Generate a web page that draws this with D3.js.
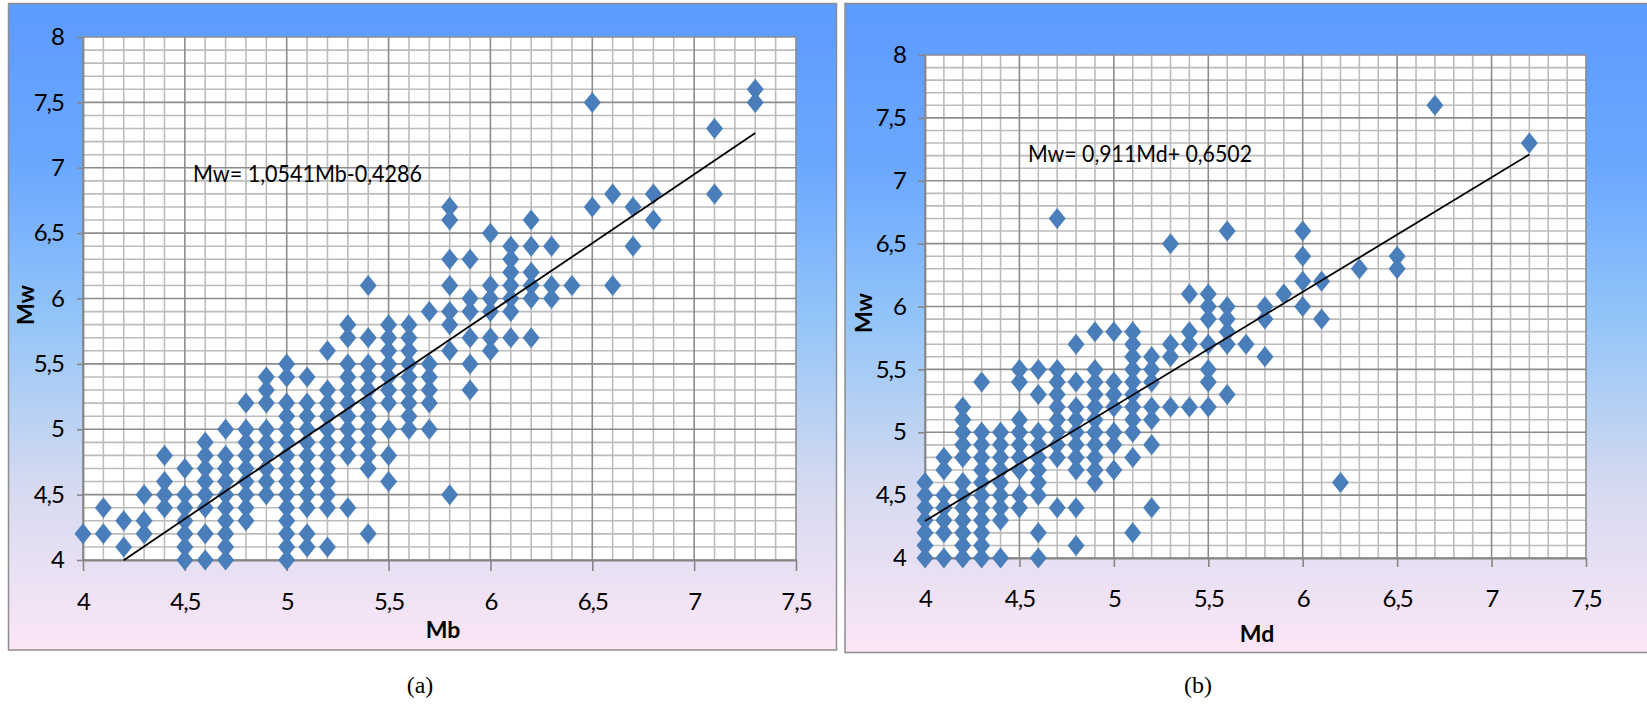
<!DOCTYPE html>
<html>
<head>
<meta charset="utf-8">
<script src="https://cdn.jsdelivr.net/npm/d3@7"></script>
<style>
  body { margin: 0; background: #fff; }
  text { font-family: Lato, "Open Sans", sans-serif; }
</style>
</head>
<body>
<div id="chart"></div>
<script>
var svgWidth = 1647;
var svgHeight = 704;

// (a) Mb columns and the Mw values found on each column
var mbValues = [4.0, 4.1, 4.2, 4.3, 4.4, 4.5, 4.6, 4.7, 4.8, 4.9, 5.0, 5.1, 5.2, 5.3, 5.4, 5.5,
  5.6, 5.7, 5.8, 5.9, 6.0, 6.1, 6.2, 6.3, 6.4, 6.5, 6.6, 6.7, 6.8, 7.1, 7.3];
var mwByMb = [
  [4.2],
  [4.4, 4.2],
  [4.3, 4.1],
  [4.5, 4.3, 4.2],
  [4.8, 4.6, 4.5, 4.4],
  [4.7, 4.5, 4.4, 4.3, 4.2, 4.1, 4.0],
  [4.9, 4.8, 4.7, 4.6, 4.5, 4.4, 4.2, 4.0],
  [5.0, 4.8, 4.7, 4.6, 4.5, 4.4, 4.3, 4.2, 4.1, 4.0],
  [5.2, 5.0, 4.9, 4.8, 4.7, 4.6, 4.5, 4.4, 4.3],
  [5.4, 5.3, 5.2, 5.0, 4.9, 4.8, 4.7, 4.6, 4.5],
  [5.5, 5.4, 5.2, 5.1, 5.0, 4.9, 4.8, 4.7, 4.6, 4.5, 4.4, 4.3, 4.2, 4.1, 4.0],
  [5.4, 5.2, 5.1, 5.0, 4.9, 4.8, 4.7, 4.6, 4.5, 4.4, 4.2, 4.1],
  [5.6, 5.3, 5.2, 5.1, 5.0, 4.9, 4.8, 4.7, 4.6, 4.5, 4.4, 4.1],
  [5.8, 5.7, 5.5, 5.4, 5.3, 5.2, 5.1, 5.0, 4.9, 4.8, 4.4],
  [6.1, 5.7, 5.5, 5.4, 5.3, 5.2, 5.1, 5.0, 4.9, 4.8, 4.7, 4.2],
  [5.8, 5.7, 5.6, 5.5, 5.4, 5.3, 5.2, 5.0, 4.8, 4.6],
  [5.8, 5.7, 5.6, 5.5, 5.4, 5.3, 5.2, 5.1, 5.0],
  [5.9, 5.5, 5.4, 5.3, 5.2, 5.0],
  [6.7, 6.6, 6.3, 6.1, 5.9, 5.8, 5.6, 4.5],
  [6.3, 6.0, 5.9, 5.7, 5.5, 5.3],
  [6.5, 6.1, 6.0, 5.9, 5.7, 5.6],
  [6.4, 6.3, 6.2, 6.1, 6.0, 5.9, 5.7],
  [6.6, 6.4, 6.2, 6.1, 6.0, 5.7],
  [6.4, 6.1, 6.0],
  [6.1],
  [7.5, 6.7],
  [6.8, 6.1],
  [6.7, 6.4],
  [6.8, 6.6],
  [7.3, 6.8],
  [7.6, 7.5]
];

// (b) Md columns and the Mw values found on each column
var mdValues = [4.0, 4.1, 4.2, 4.3, 4.4, 4.5, 4.6, 4.7, 4.8, 4.9, 5.0, 5.1, 5.2, 5.3, 5.4, 5.5,
  5.6, 5.7, 5.8, 5.9, 6.0, 6.1, 6.2, 6.3, 6.5, 6.7, 7.2];
var mwByMd = [
  [4.6, 4.5, 4.4, 4.3, 4.2, 4.1, 4.0],
  [4.8, 4.7, 4.5, 4.4, 4.3, 4.2, 4.0],
  [5.2, 5.1, 5.0, 4.9, 4.8, 4.6, 4.5, 4.4, 4.3, 4.2, 4.1, 4.0],
  [5.4, 5.0, 4.9, 4.8, 4.7, 4.6, 4.5, 4.4, 4.3, 4.2, 4.1, 4.0],
  [5.0, 4.9, 4.8, 4.7, 4.6, 4.5, 4.4, 4.3, 4.0],
  [5.5, 5.4, 5.1, 5.0, 4.9, 4.8, 4.7, 4.5, 4.4],
  [5.5, 5.3, 5.0, 4.9, 4.8, 4.7, 4.6, 4.5, 4.2, 4.0],
  [6.7, 5.5, 5.4, 5.3, 5.2, 5.1, 5.0, 4.9, 4.8, 4.4],
  [5.7, 5.4, 5.2, 5.1, 5.0, 4.9, 4.8, 4.7, 4.4, 4.1],
  [5.8, 5.5, 5.4, 5.3, 5.2, 5.1, 5.0, 4.9, 4.8, 4.7, 4.6],
  [5.8, 5.4, 5.3, 5.2, 5.0, 4.9, 4.7],
  [5.8, 5.7, 5.6, 5.5, 5.4, 5.3, 5.2, 5.1, 5.0, 4.8, 4.2],
  [5.6, 5.5, 5.4, 5.2, 5.1, 4.9, 4.4],
  [6.5, 5.7, 5.6, 5.2],
  [6.1, 5.8, 5.7, 5.2],
  [6.1, 6.0, 5.9, 5.7, 5.5, 5.4, 5.2],
  [6.6, 6.0, 5.9, 5.8, 5.7, 5.3],
  [5.7],
  [6.0, 5.9, 5.6],
  [6.1],
  [6.6, 6.4, 6.2, 6.0],
  [6.2, 5.9],
  [4.6],
  [6.3],
  [6.4, 6.3],
  [7.6],
  [7.3]
];

var xTicks = [4, 4.5, 5, 5.5, 6, 6.5, 7, 7.5];
var yTicks = [4, 4.5, 5, 5.5, 6, 6.5, 7, 7.5, 8];

// trend lines: [slope, intercept] and the x range they cover
var fitA = [1.0541, -0.4286];
var fitRangeA = [4.2, 7.3];
var fitB = [0.911, 0.6502];
var fitRangeB = [4.0, 7.2];

var commaFormat = function (d) { return String(d).replace(".", ","); };

var svg = d3.select("#chart")
  .append("svg")
  .attr("width", svgWidth)
  .attr("height", svgHeight);

var defs = svg.append("defs");
var grad = defs.append("linearGradient")
  .attr("id", "bg")
  .attr("x1", 0).attr("y1", 0).attr("x2", 0).attr("y2", 1);
grad.append("stop").attr("offset", "0%").attr("stop-color", "#5c9bff");
grad.append("stop").attr("offset", "25%").attr("stop-color", "#6aa8ff");
grad.append("stop").attr("offset", "50%").attr("stop-color", "#96c6f8");
grad.append("stop").attr("offset", "75%").attr("stop-color", "#d6daf0");
grad.append("stop").attr("offset", "100%").attr("stop-color", "#fce6f7");

function drawPanel(p) {
  var g = svg.append("g");

  g.append("rect")
    .attr("x", p.frame[0]).attr("y", p.frame[1])
    .attr("width", p.frame[2]).attr("height", p.frame[3])
    .attr("fill", "url(#bg)")
    .attr("stroke", "#8e8e8e")
    .attr("stroke-width", 1.5);

  var x = d3.scaleLinear().domain([4, 7.5]).range([p.plot[0], p.plot[1]]);
  var y = d3.scaleLinear().domain([4, 8]).range([p.plot[3], p.plot[2]]);

  g.append("rect")
    .attr("x", x(4)).attr("y", y(8))
    .attr("width", x(7.5) - x(4)).attr("height", y(4) - y(8))
    .attr("fill", "#fff");

  // grid, every 0.1 with darker lines at the 0.5 steps
  var xs = d3.range(0, 36).map(function (i) { return { v: 4 + i / 10, major: i % 5 === 0 }; });
  var ys = d3.range(0, 41).map(function (i) { return { v: 4 + i / 10, major: i % 5 === 0 }; });
  var grid = g.append("g");
  [false, true].forEach(function (major) {
    grid.selectAll(null)
      .data(xs.filter(function (d) { return d.major === major; }))
      .enter().append("line")
      .attr("x1", function (d) { return x(d.v); }).attr("x2", function (d) { return x(d.v); })
      .attr("y1", y(4)).attr("y2", y(8))
      .attr("stroke", major ? "#8c8c8c" : "#bcbcbc")
      .attr("stroke-width", 1.6);
    grid.selectAll(null)
      .data(ys.filter(function (d) { return d.major === major; }))
      .enter().append("line")
      .attr("y1", function (d) { return y(d.v); }).attr("y2", function (d) { return y(d.v); })
      .attr("x1", x(4)).attr("x2", x(7.5))
      .attr("stroke", major ? "#8c8c8c" : "#bcbcbc")
      .attr("stroke-width", 1.6);
  });

  var bottomAxis = d3.axisBottom(x)
    .tickValues(xTicks).tickFormat(commaFormat)
    .tickSize(p.xTick).tickSizeOuter(0).tickPadding(p.xPad);
  var leftAxis = d3.axisLeft(y)
    .tickValues(yTicks).tickFormat(commaFormat)
    .tickSize(p.yTick).tickSizeOuter(0).tickPadding(p.yPad);

  var xg = g.append("g")
    .attr("transform", "translate(0," + y(4) + ")")
    .call(bottomAxis);
  var yg = g.append("g")
    .attr("transform", "translate(" + x(4) + ",0)")
    .call(leftAxis);
  [xg, yg].forEach(function (a) {
    a.select(".domain").attr("stroke", "#868686").attr("stroke-width", 1.8);
    a.selectAll(".tick line").attr("stroke", "#868686").attr("stroke-width", 1.6);
    a.selectAll(".tick text")
      .attr("fill", "#000")
      .style("font-size", "24px")
      .style("letter-spacing", "-1px")
      .style("font-family", "Lato, sans-serif");
  });

  var points = [];
  p.cols.forEach(function (c, i) {
    p.vals[i].forEach(function (v) { points.push({ x: c, y: v }); });
  });

  g.append("g").selectAll("path")
    .data(points)
    .enter()
    .append("path")
    .attr("d", "M0,-10.5L8.5,0L0,10.5L-8.5,0Z")
    .attr("transform", function (d) { return "translate(" + x(d.x) + "," + y(d.y) + ")"; })
    .attr("fill", "#4a7ebb");

  g.append("line")
    .attr("x1", x(p.fitRange[0])).attr("y1", y(p.fit[0] * p.fitRange[0] + p.fit[1]))
    .attr("x2", x(p.fitRange[1])).attr("y2", y(p.fit[0] * p.fitRange[1] + p.fit[1]))
    .attr("stroke", "#000")
    .attr("stroke-width", 1.8);

  g.append("text")
    .attr("x", p.eqPos[0]).attr("y", p.eqPos[1])
    .attr("textLength", p.eqPos[2])
    .attr("lengthAdjust", "spacingAndGlyphs")
    .style("font-size", "24px")
    .attr("fill", "#000")
    .text(p.equation);

  g.append("text")
    .attr("transform", "translate(" + p.xTitlePos[0] + "," + p.xTitlePos[1] + ")")
    .attr("text-anchor", "middle")
    .style("font-size", "23px")
    .style("font-weight", "bold")
    .text(p.xTitle);

  g.append("text")
    .attr("transform", "translate(" + p.yTitlePos[0] + "," + p.yTitlePos[1] + ") rotate(-90)")
    .attr("text-anchor", "middle")
    .style("font-size", "23px")
    .style("font-weight", "bold")
    .text("Mw");

  svg.append("text")
    .attr("x", p.caption[0]).attr("y", p.caption[1])
    .attr("text-anchor", "middle")
    .style("font-family", "'Liberation Serif', 'Times New Roman', serif")
    .style("font-size", "24px")
    .text(p.caption[2]);
}

drawPanel({
  frame: [8.5, 3.5, 828, 646.5],
  plot: [83, 796, 37, 560],
  xTick: 11, xPad: 22, yTick: 6, yPad: 13,
  cols: mbValues, vals: mwByMb,
  fit: fitA, fitRange: fitRangeA,
  equation: "Mw= 1,0541Mb-0,4286",
  eqPos: [193, 182, 229],
  xTitle: "Mb", xTitlePos: [443, 638],
  yTitlePos: [34, 305],
  caption: [420, 693, "(a)"]
});

drawPanel({
  frame: [845, 3.5, 810, 649],
  plot: [925, 1586, 55, 558],
  xTick: 9, xPad: 23, yTick: 7, yPad: 12,
  cols: mdValues, vals: mwByMd,
  fit: fitB, fitRange: fitRangeB,
  equation: "Mw= 0,911Md+ 0,6502",
  eqPos: [1028, 162, 224],
  xTitle: "Md", xTitlePos: [1257, 642],
  yTitlePos: [872, 313],
  caption: [1198, 693, "(b)"]
});
</script>
</body>
</html>
